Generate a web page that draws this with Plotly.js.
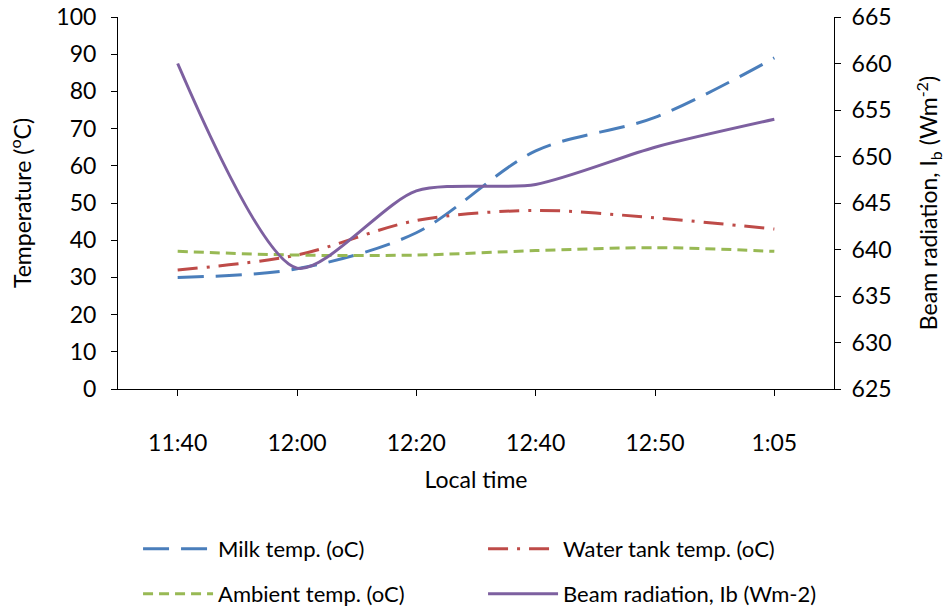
<!DOCTYPE html>
<html><head><meta charset="utf-8">
<script src="https://cdn.plot.ly/plotly-3.0.1.min.js"></script>
<style>html,body{margin:0;padding:0;background:#fff}#chart{width:948px;height:610px}</style>
</head><body><div id="chart"></div>
<script>
const categories = ["11:40", "12:00", "12:20", "12:40", "12:50", "1:05"];
const milkTemp = [30, 32.3, 42, 64, 73, 89];
const waterTankTemp = [32, 36, 45.3, 48, 46, 43];
const ambientTemp = [37, 36, 36, 37.2, 38, 37];
const beamRadiation = [660, 638.0, 646.3, 647, 651, 654];
const seriesNames = ["Milk temp. (oC)", "Water tank temp. (oC)", "Ambient temp. (oC)", "Beam radiation, Ib (Wm-2)"];

const FONT = "Lato, 'Open Sans', sans-serif";
const TS = 23;
const traces = [
  {x: categories, y: milkTemp, name: seriesNames[0], type: "scatter", mode: "lines",
   line: {color: "#4A7EBB", width: 3, dash: "26px,12px", shape: "spline", smoothing: 0.9}, legend: "legend"},
  {x: categories, y: waterTankTemp, name: seriesNames[1], type: "scatter", mode: "lines",
   line: {color: "#BE4B48", width: 3, dash: "20px,9px,3px,9px", shape: "spline", smoothing: 0.9}, legend: "legend"},
  {x: categories, y: ambientTemp, name: seriesNames[2], type: "scatter", mode: "lines",
   line: {color: "#98B954", width: 3, dash: "10px,6px", shape: "spline", smoothing: 0.9}, legend: "legend2"},
  {x: categories, y: beamRadiation, name: seriesNames[3], type: "scatter", mode: "lines", yaxis: "y2",
   line: {color: "#7D60A0", width: 3, shape: "spline", smoothing: 0.75}, legend: "legend2"}
];

const layout = {
  width: 948, height: 610,
  margin: {l: 118, r: 114, t: 17, b: 221, autoexpand: false},
  paper_bgcolor: "#fff", plot_bgcolor: "#fff",
  font: {family: FONT, size: TS, color: "#000"},
  showlegend: true,
  xaxis: {
    type: "category", range: [-0.5, 5.5], showgrid: false, zeroline: false,
    showline: true, linecolor: "#000", linewidth: 1,
    ticks: "outside", ticklen: 6, tickcolor: "#000",
    ticklabelstandoff: 27,
    tickfont: {family: FONT, size: TS, color: "#000"},
    title: {text: "Local time", font: {family: FONT, size: TS, color: "#000"}, standoff: 17}
  },
  yaxis: {
    range: [0, 100], dtick: 10, showgrid: false, zeroline: false,
    showline: true, linecolor: "#000", linewidth: 1,
    ticks: "outside", ticklen: 6, tickcolor: "#000", ticklabelstandoff: 10,
    tickfont: {family: FONT, size: TS, color: "#000"},
    title: {text: "Temperature (<sup>o</sup>C)", font: {family: FONT, size: TS, color: "#000"}, standoff: 18}
  },
  yaxis2: {
    overlaying: "y", side: "right", range: [625, 665], dtick: 5, showgrid: false, zeroline: false,
    showline: true, linecolor: "#000", linewidth: 1,
    ticks: "outside", ticklen: 6, tickcolor: "#000", ticklabelstandoff: 6,
    tickfont: {family: FONT, size: TS, color: "#000"},
    title: {text: "Beam radiation, I<sub>b</sub> (Wm<sup>-2</sup>)", font: {family: FONT, size: TS, color: "#000"}, standoff: 30}
  },
  legend: {orientation: "h", x: 0.028, xanchor: "left", y: -0.43, yanchor: "middle",
    entrywidth: 260, entrywidthmode: "pixels", itemwidth: 70,
    font: {family: FONT, size: 22, color: "#000"}, bgcolor: "rgba(0,0,0,0)"},
  legend2: {orientation: "h", x: 0.028, xanchor: "left", y: -0.551, yanchor: "middle",
    entrywidth: 260, entrywidthmode: "pixels", itemwidth: 70,
    font: {family: FONT, size: 22, color: "#000"}, bgcolor: "rgba(0,0,0,0)"}
};

Plotly.newPlot("chart", traces, layout, {displayModeBar: false, staticPlot: true});
</script></body></html>
